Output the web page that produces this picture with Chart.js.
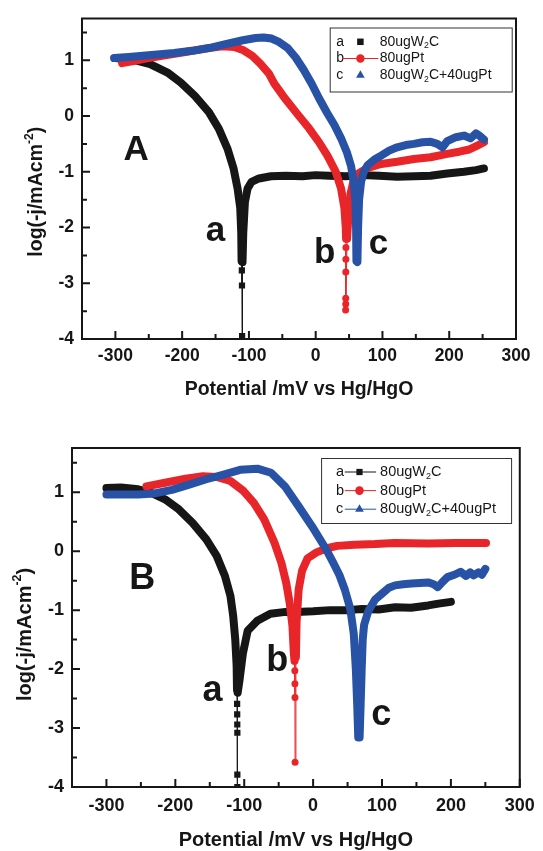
<!DOCTYPE html>
<html>
<head>
<meta charset="utf-8">
<script src="https://cdn.jsdelivr.net/npm/chart.js@4.4.1/dist/chart.umd.min.js"></script>
<style>
body{margin:0;background:#fff;}
#wrap{position:relative;width:543px;height:851px;}
canvas{position:absolute;left:0;}
#chartA{top:0}
#chartB{top:420px}
</style>
</head>
<body>
<div id="wrap">
<canvas id="chartA" width="543" height="420"></canvas>
<canvas id="chartB" width="543" height="431"></canvas>
</div>
<script>
// axis ticks and names
const xTickVals = [-300, -200, -100, 0, 100, 200, 300];
const yTickVals = [-4, -3, -2, -1, 0, 1];
const seriesNames = ['80ugW₂C', '80ugPt', '80ugW₂C+40ugPt'];
const curveTags = ['a', 'b', 'c'];

// panel A, potential (mV) and log(-j)
const aW2C_x = [-300,-274,-248,-222,-202,-181,-160,-145,-132,-123,-117,-113,-111.5,-111,-110.6,-110.4,-110.2,-109.6,-108.5,-106,-102,-96,-85,-67,-45,-20,0,20,45,70,95,122,148,172,197,222,240,252];
const aW2C_y = [1.04,1.01,0.93,0.78,0.60,0.36,0.07,-0.23,-0.59,-0.94,-1.30,-1.65,-2.10,-2.60,-2.77,-3.04,-3.95,-2.62,-2.10,-1.54,-1.30,-1.18,-1.12,-1.08,-1.07,-1.08,-1.06,-1.07,-1.08,-1.06,-1.07,-1.09,-1.08,-1.07,-1.03,-1.00,-0.97,-0.94];
const aPt_x = [-290,-275,-255,-230,-200,-165,-140,-122,-108,-95,-83,-70,-62,-45,-27,-10,5,18,30,38,43,45,45.5,45.3,45.2,45.1,45,45,44.8,47,49,52,57,64,78,98,122,147,172,197,215,230,242,252];
const aPt_y = [0.95,0.98,1.03,1.08,1.14,1.21,1.25,1.24,1.18,1.08,0.94,0.76,0.58,0.30,0.03,-0.22,-0.47,-0.72,-1.00,-1.30,-1.65,-2.00,-2.20,-2.36,-2.57,-2.80,-3.27,-3.37,-3.48,-2.20,-1.80,-1.40,-1.15,-1.03,-0.93,-0.86,-0.82,-0.77,-0.74,-0.68,-0.64,-0.60,-0.53,-0.47];
const aMix_x = [-302,-280,-250,-212,-185,-160,-135,-109,-90,-78,-66,-55,-42,-30,-18,-6,5,17,28,38,47,53,57,59.5,60.5,61,62.5,63.5,65,68,72,78,88,98,110,122,135,147,160,172,182,190,197,210,222,232,240,246,252];
const aMix_y = [1.04,1.06,1.09,1.13,1.17,1.22,1.29,1.36,1.40,1.41,1.39,1.33,1.22,1.05,0.83,0.58,0.32,0.06,-0.16,-0.40,-0.66,-0.90,-1.18,-1.53,-2.00,-2.60,-2.62,-2.00,-1.50,-1.18,-1.00,-0.88,-0.78,-0.71,-0.62,-0.56,-0.52,-0.50,-0.47,-0.46,-0.50,-0.56,-0.45,-0.38,-0.35,-0.40,-0.31,-0.36,-0.42];

// panel B
const bW2C_x = [-300,-279,-254,-235,-215,-195,-175,-155,-140,-128,-120,-116,-113,-111,-110.5,-110.3,-110.2,-110.1,-110,-110,-110,-109.5,-107,-102,-95,-81,-62,-40,-24,0,25,50,71,95,119,142,167,182,200];
const bW2C_y = [1.07,1.08,1.05,0.99,0.88,0.71,0.48,0.20,-0.08,-0.42,-0.76,-1.10,-1.50,-1.95,-2.35,-2.59,-2.77,-2.94,-3.08,-3.79,-4.00,-2.40,-2.20,-1.74,-1.35,-1.18,-1.06,-1.03,-1.03,-1.02,-1.00,-1.00,-0.98,-0.99,-0.95,-0.96,-0.92,-0.89,-0.86];
const bPt_x = [-242,-215,-185,-160,-140,-120,-101,-86,-71,-56,-46,-39,-34,-30,-28,-27,-26.5,-26.4,-26.3,-26.2,-25,-24,-21,-16,-8,5,20,35,60,90,118,167,207,251];
const bPt_y = [1.10,1.16,1.23,1.27,1.26,1.19,1.02,0.82,0.54,0.14,-0.20,-0.54,-0.88,-1.27,-1.73,-1.86,-2.03,-2.25,-2.48,-3.58,-1.80,-1.20,-0.65,-0.33,-0.12,-0.02,0.05,0.09,0.11,0.12,0.14,0.13,0.14,0.14];
const bMix_x = [-300,-279,-254,-230,-205,-180,-155,-130,-106,-81,-61,-41,-21,-1.5,18,28,38,46,54,59,62,64,65.5,67.5,69,70.5,72,74,80,90,100,110,119,131,143,155,167,175,181,188,195,205,214,222,228,233,240,245,250];
const bMix_y = [0.96,0.96,0.96,0.98,1.04,1.13,1.22,1.30,1.38,1.40,1.33,1.10,0.76,0.42,0.05,-0.17,-0.40,-0.65,-0.98,-1.40,-2.00,-2.60,-3.16,-3.16,-2.60,-2.00,-1.50,-1.25,-1.02,-0.82,-0.72,-0.62,-0.58,-0.56,-0.55,-0.54,-0.53,-0.56,-0.61,-0.52,-0.44,-0.40,-0.35,-0.42,-0.36,-0.41,-0.36,-0.40,-0.30];

// text labels placed at data values
const tagsA = [{t:'A', x:-269, y:-0.79}, {t:'a', x:-150, y:-2.24}, {t:'b', x:13.5, y:-2.63}, {t:'c', x:94, y:-2.48}];
const tagsB = [{t:'B', x:-248, y:-0.635}, {t:'a', x:-146, y:-2.54}, {t:'b', x:-52, y:-2.03}, {t:'c', x:99, y:-2.94}];

const fam = '"Liberation Sans", Arial, sans-serif';
const ink = '#161616';
const colors = ['#161616', '#e8262a', '#2752a6'];
const shapes = ['rect', 'circle', 'triangle'];
const tailRadius = {rect: 4.4, circle: 3.5, triangle: 4.5};
const thick = 8;

function curveSet(i, xs, ys, tailBelow) {
  const isTail = k => ys[k] < tailBelow;
  return {
    label: seriesNames[i],
    data: xs.map((x, k) => ({x: x, y: ys[k]})),
    borderColor: colors[i],
    backgroundColor: colors[i],
    pointStyle: shapes[i],
    order: 3 - i,
    borderWidth: thick,
    borderJoinStyle: 'round',
    borderCapStyle: 'round',
    pointBorderWidth: 0,
    pointRadius: c => isTail(c.dataIndex) ? tailRadius[shapes[i]] : 0,
    segment: {
      borderWidth: c => (isTail(c.p0DataIndex) || isTail(c.p1DataIndex)) ? 1 : thick
    },
    tension: 0,
    fill: false
  };
}

// split "80ugW₂C" so the 2 can be drawn as a real subscript
function richParts(s) {
  const out = [];
  s.split('₂').forEach((p, k) => {
    if (k > 0) out.push({t: '2', sub: true});
    if (p) out.push({t: p});
  });
  return out;
}
function richWidth(ctx, parts, size, weight) {
  let w = 0;
  parts.forEach(p => {
    ctx.font = weight + ' ' + (p.sub || p.sup ? size * 0.62 : size) + 'px ' + fam;
    w += ctx.measureText(p.t).width;
  });
  return w;
}
function drawRich(ctx, parts, x, y, size, weight) {
  parts.forEach(p => {
    const small = p.sub || p.sup;
    ctx.font = weight + ' ' + (small ? size * 0.62 : size) + 'px ' + fam;
    let dy = 0;
    if (p.sub) dy = size * 0.28;
    if (p.sup) dy = -size * 0.38;
    ctx.fillText(p.t, x, y + dy);
    x += ctx.measureText(p.t).width;
  });
}

const panelDeco = {
  id: 'panelDeco',
  afterDatasetsDraw(chart, args, o) {
    const ctx = chart.ctx;
    const a = chart.chartArea;
    const xs = chart.scales.x, ys = chart.scales.y;
    ctx.save();
    ctx.strokeStyle = ink;
    ctx.fillStyle = ink;
    ctx.lineWidth = 2;
    // inward ticks
    ctx.beginPath();
    xTickVals.forEach(v => {
      const p = xs.getPixelForValue(v);
      ctx.moveTo(p, a.bottom); ctx.lineTo(p, a.bottom - 8);
      const m = xs.getPixelForValue(v + 50);
      if (v + 50 < xs.max) { ctx.moveTo(m, a.bottom); ctx.lineTo(m, a.bottom - 5); }
    });
    yTickVals.forEach(v => {
      const p = ys.getPixelForValue(v);
      ctx.moveTo(a.left, p); ctx.lineTo(a.left + 8, p);
      const m = ys.getPixelForValue(v + 0.5);
      if (v + 0.5 < ys.max) { ctx.moveTo(a.left, m); ctx.lineTo(a.left + 5, m); }
    });
    ctx.stroke();
    ctx.strokeRect(a.left, a.top, a.right - a.left, a.bottom - a.top);

    // curve tags and panel letter
    ctx.font = 'bold ' + o.tagSize + 'px ' + fam;
    ctx.textAlign = 'center';
    ctx.textBaseline = 'alphabetic';
    o.tags.forEach(t => ctx.fillText(t.t, xs.getPixelForValue(t.x), ys.getPixelForValue(t.y)));

    // legend box
    const L = o.legend;
    const bx = a.right - L.right - L.width, by = a.top + L.top;
    ctx.fillStyle = '#fff';
    ctx.fillRect(bx, by, L.width, L.height);
    ctx.strokeStyle = '#333';
    ctx.lineWidth = 1;
    ctx.strokeRect(bx + 0.5, by + 0.5, L.width, L.height);
    ctx.textAlign = 'left';
    ctx.textBaseline = 'middle';
    chart.data.datasets.forEach((d, i) => {
      const ry = by + L.first + i * L.step;
      ctx.fillStyle = ink;
      ctx.font = L.size + 'px ' + fam;
      ctx.fillText(curveTags[i], bx + L.letter, ry);
      if (L.lines[i]) {
        ctx.strokeStyle = d.borderColor;
        ctx.lineWidth = 1;
        ctx.beginPath();
        ctx.moveTo(bx + L.lineFrom, ry); ctx.lineTo(bx + L.lineTo, ry);
        ctx.stroke();
      }
      ctx.fillStyle = d.borderColor;
      Chart.helpers.drawPoint(ctx, {pointStyle: d.pointStyle, radius: L.mark[i], rotation: 0, borderWidth: 0}, bx + L.markX, ry);
      ctx.fillStyle = ink;
      drawRich(ctx, richParts(d.label), bx + L.textX, ry, L.size, 'normal');
    });

    // axis titles
    ctx.fillStyle = ink;
    ctx.textAlign = 'center';
    ctx.font = 'bold ' + o.titleSize + 'px ' + fam;
    ctx.fillText('Potential /mV vs Hg/HgO', (a.left + a.right) / 2, a.bottom + o.xTitleGap);
    const yParts = [{t: 'log(-j/mAcm'}, {t: '-2', sup: true}, {t: ')'}];
    const w = richWidth(ctx, yParts, o.titleSize, 'bold');
    ctx.translate(o.yTitleX, (a.top + a.bottom) / 2 + o.yTitleShift);
    ctx.rotate(-Math.PI / 2);
    ctx.textAlign = 'left';
    drawRich(ctx, yParts, -w / 2, 0, o.titleSize, 'bold');
    ctx.restore();
  }
};

function makeChart(id, sets, g, deco) {
  const tickFont = {family: fam, size: g.tick, weight: 'bold'};
  return new Chart(document.getElementById(id), {
    type: 'line',
    data: {datasets: sets},
    options: {
      responsive: false,
      animation: false,
      devicePixelRatio: 1,
      layout: {padding: {top: g.top, right: g.right, left: 0, bottom: 0}},
      plugins: {legend: {display: false}, tooltip: {enabled: false}, panelDeco: deco},
      scales: {
        x: {
          type: 'linear', min: -350, max: 300,
          afterBuildTicks: s => { s.ticks = xTickVals.map(v => ({value: v})); },
          afterFit: s => { s.height = g.xh; },
          grid: {display: false, drawTicks: false},
          border: {display: false},
          ticks: {padding: g.xpad, color: ink, font: tickFont, maxRotation: 0, autoSkip: false, callback: v => String(v)}
        },
        y: {
          type: 'linear', min: -4, max: 1.75,
          afterBuildTicks: s => { s.ticks = yTickVals.map(v => ({value: v})); },
          afterFit: s => { s.width = g.yw; },
          grid: {display: false, drawTicks: false},
          border: {display: false},
          ticks: {padding: g.ypad, color: ink, font: tickFont, autoSkip: false, callback: v => String(v)}
        }
      }
    },
    plugins: [panelDeco]
  });
}

makeChart('chartA', [
  curveSet(0, aW2C_x, aW2C_y, -2.65),
  curveSet(1, aPt_x, aPt_y, -2.3),
  curveSet(2, aMix_x, aMix_y, -9)
], {top: 15, right: 27, xh: 81, yw: 82, xpad: 6.5, ypad: 8, tick: 17.5}, {
  tags: tagsA, tagSize: 35, titleSize: 19.5, xTitleGap: 51, yTitleX: 37, yTitleShift: 13,
  legend: {right: 4.3, top: 9, width: 182, height: 64, first: 14.3, step: 16.7, size: 14,
           letter: 6.5, lineFrom: 12.4, lineTo: 48.7, markX: 30.7, textX: 50,
           lines: [false, true, false], mark: [4.6, 4.2, 5]}
});

makeChart('chartB', [
  curveSet(0, bW2C_x, bW2C_y, -2.5),
  curveSet(1, bPt_x, bPt_y, -1.95),
  curveSet(2, bMix_x, bMix_y, -9)
], {top: 28, right: 16, xh: 64, yw: 72, xpad: 8.2, ypad: 8, tick: 18}, {
  tags: tagsB, tagSize: 36, titleSize: 20, xTitleGap: 53, yTitleX: 25, yTitleShift: 17,
  legend: {right: 8.7, top: 10, width: 190, height: 65, first: 14, step: 18.6, size: 14.5,
           letter: 15, lineFrom: 23.7, lineTo: 55, markX: 38.4, textX: 59,
           lines: [true, true, true], mark: [4.4, 4.3, 5]}
});
</script>
</body>
</html>
